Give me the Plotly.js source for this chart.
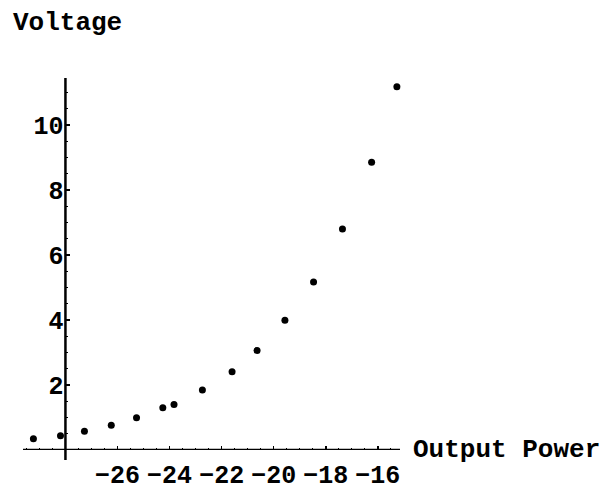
<!DOCTYPE html>
<html>
<head>
<meta charset="utf-8">
<script src="https://cdn.plot.ly/plotly-3.0.1.min.js"></script>
<style>html,body{margin:0;padding:0;background:#fff;}#chart{width:606px;height:493px;}</style>
</head>
<body>
<div id="chart"></div>
<script>
// Data
const outputPower = [-29.23, -28.19, -27.27, -26.24, -25.27, -24.26, -23.83, -22.74, -21.6, -20.64, -19.57, -18.47, -17.36, -16.24, -15.27];
const voltage = [0.35, 0.44, 0.58, 0.76, 0.99, 1.30, 1.40, 1.85, 2.41, 3.06, 3.99, 5.17, 6.80, 8.86, 11.18];
const xTickVals = [-26, -24, -22, -20, -18, -16];
const yTickVals = [2, 4, 6, 8, 10];
const xTitle = "Output Power";
const yTitle = "Voltage";
const xRange = [-29.63, -15.15];
const yRange = [0, 11.45];
const yAxisAt = -28;

const tickFont = {family: "Liberation Mono, Courier New, monospace", size: 25, color: "#000", weight: "bold"};
const titleFont = {family: "Courier New, Liberation Mono, monospace", size: 26, color: "#000", weight: "bold"};

const W = 606, H = 493;
const margin = {l: 23, r: 206, t: 78, b: 43};
const plotH = H - margin.t - margin.b;

const trace = {
  x: outputPower, y: voltage, mode: "markers", type: "scatter",
  marker: {color: "#000", size: 7}, hoverinfo: "skip", cliponaxis: false
};

const layout = {
  width: W, height: H, margin: margin,
  paper_bgcolor: "#fff", plot_bgcolor: "#fff", showlegend: false,
  xaxis: {
    range: xRange, showgrid: false, zeroline: false, showline: false,
    tickvals: xTickVals, ticks: "inside", ticklen: 4, tickwidth: 1.5, tickcolor: "#000",
    minor: {dtick: 0.5, ticks: "inside", ticklen: 2, tickwidth: 1, tickcolor: "#000"},
    tickfont: tickFont, ticklabelstandoff: 7
  },
  yaxis: {
    range: yRange, showgrid: false, zeroline: false, showline: false,
    anchor: "free", position: (yAxisAt - xRange[0]) / (xRange[1] - xRange[0]),
    tickvals: yTickVals, ticks: "inside", ticklen: 4, tickwidth: 1.5, tickcolor: "#000",
    minor: {dtick: 0.5, ticks: "inside", ticklen: 2, tickwidth: 1, tickcolor: "#000"},
    tickfont: tickFont, ticklabelstandoff: 2
  },
  shapes: [
    {type: "line", xref: "paper", yref: "y", x0: 0, x1: 1, y0: 0, y1: 0, line: {color: "#000", width: 2.5}},
    {type: "line", xref: "x", yref: "paper", x0: yAxisAt, x1: yAxisAt, y0: -10 / plotH, y1: 1, line: {color: "#000", width: 2.5}}
  ],
  annotations: [
    {text: yTitle, xref: "paper", yref: "paper", x: (11 - margin.l) / (W - margin.l - margin.r), y: (H - margin.b - 23) / plotH,
     xanchor: "left", yanchor: "middle", showarrow: false, font: titleFont},
    {text: xTitle, xref: "paper", yref: "paper", x: (411 - margin.l) / (W - margin.l - margin.r), y: 0,
     xanchor: "left", yanchor: "middle", showarrow: false, font: titleFont}
  ]
};

Plotly.newPlot("chart", [trace], layout, {displayModeBar: false, staticPlot: true});
</script>
</body>
</html>
